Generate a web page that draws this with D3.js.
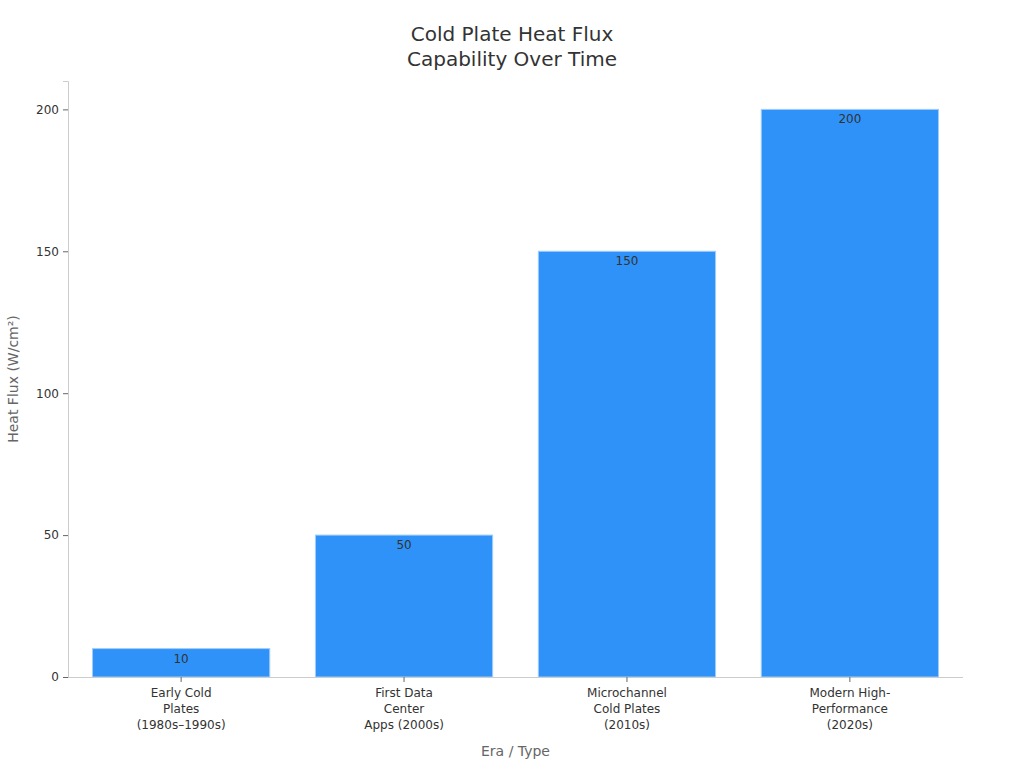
<!DOCTYPE html>
<html><head><meta charset="utf-8">
<script src="https://cdn.jsdelivr.net/npm/d3@7"></script>
<style>body{margin:0;background:#fff;font-family:"DejaVu Sans",sans-serif;}</style>
</head><body><svg id="c" width="1024" height="768"></svg>
<script>
const categories = [
  ["Early Cold", "Plates", "(1980s–1990s)"],
  ["First Data", "Center", "Apps (2000s)"],
  ["Microchannel", "Cold Plates", "(2010s)"],
  ["Modern High-", "Performance", "(2020s)"]
];
const values = [10, 50, 150, 200];
const yTicks = [0, 50, 100, 150, 200];

const svg = d3.select("#c");
const L = 68, R = 963, T = 81, B = 677;
const x = d3.scaleBand().domain(d3.range(categories.length)).range([L, R]).paddingInner(0.205).paddingOuter(0.11);
const y = d3.scaleLinear().domain([0, 210]).range([B, T]);

// bars
svg.selectAll("rect.bar").data(values).enter().append("rect")
  .attr("x", (d, i) => x(i)).attr("width", x.bandwidth())
  .attr("y", d => y(d)).attr("height", d => B - y(d))
  .attr("fill", "#2f92f8").attr("stroke", "#9fcdfb").attr("stroke-width", 1);

svg.selectAll("text.val").data(values).enter().append("text")
  .attr("x", (d, i) => x(i) + x.bandwidth() / 2).attr("y", d => y(d) + 14)
  .attr("text-anchor", "middle").attr("font-size", 12).attr("fill", "#333").text(d => d);

// y axis
const ya = svg.append("g").attr("transform", `translate(${L},0)`)
  .call(d3.axisLeft(y).tickValues(yTicks).tickSize(5).tickPadding(4));
ya.select(".domain").attr("stroke", "#ccc");
ya.selectAll(".tick line").attr("stroke", "#666");
ya.selectAll(".tick text").attr("font-size", 12).attr("fill", "#333").attr("font-family", "DejaVu Sans");

// x axis
const xa = svg.append("g").attr("transform", `translate(0,${B})`)
  .call(d3.axisBottom(x).tickSize(5).tickFormat(""));
xa.select(".domain").attr("stroke", "#ccc").attr("d", `M${L},0.5H${R}`);
xa.selectAll(".tick line").attr("stroke", "#666");
xa.selectAll(".tick").each(function(d) {
  const t = d3.select(this).append("text").attr("fill", "#333").attr("font-size", 12)
    .attr("text-anchor", "middle").attr("font-family", "DejaVu Sans");
  categories[d].forEach((line, k) => {
    t.append("tspan").attr("x", 0).attr("y", 20 + k * 16).text(line);
  });
});

// axis titles
svg.append("text").attr("x", (L + R) / 2).attr("y", 756).attr("text-anchor", "middle")
  .attr("font-size", 14).attr("fill", "#666").text("Era / Type");
svg.append("text").attr("transform", `translate(18,${(T + B) / 2}) rotate(-90)`).attr("text-anchor", "middle")
  .attr("font-size", 14).attr("fill", "#666").text("Heat Flux (W/cm²)");

// title
const title = svg.append("text").attr("text-anchor", "middle").attr("font-size", 20).attr("fill", "#333");
["Cold Plate Heat Flux", "Capability Over Time"].forEach((s, k) => {
  title.append("tspan").attr("x", 512).attr("y", 41 + k * 25).text(s);
});
</script></body></html>
